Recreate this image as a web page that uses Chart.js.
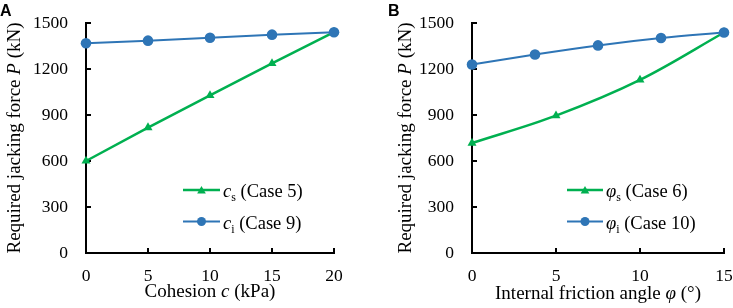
<!DOCTYPE html>
<html>
<head>
<meta charset="utf-8">
<script src="https://cdn.jsdelivr.net/npm/chart.js@4.4.1/dist/chart.umd.min.js"></script>
<style>
	html, body { margin: 0; padding: 0; background: #fff; }
	#wrap { position: relative; width: 733px; height: 308px; overflow: hidden; }
	canvas { position: absolute; top: 0; }
	#chartA { left: 0; }
	#chartB { left: 366px; }
	.tag { position: absolute; top: 3px; font: bold 16px/16px "Liberation Sans", Arial, sans-serif; color: #000; }
</style>
</head>
<body>
<div id="wrap">
	<canvas id="chartA" width="366" height="308"></canvas>
	<canvas id="chartB" width="367" height="308"></canvas>
	<div class="tag" style="left:0">A</div>
	<div class="tag" style="left:388px">B</div>
</div>
<script>
( function () {
	'use strict';

	// Panel A: cohesion
	const cohesion = [ 0, 5, 10, 15, 20 ];
	const forceCs = [ 600, 818, 1028, 1237, 1440 ];
	const forceCi = [ 1368, 1385, 1404, 1424, 1440 ];

	// Panel B: internal friction angle
	const phiS = [ 0, 5, 10, 15 ];
	const forcePhiS = [ 717, 896, 1129, 1438 ];
	const phiI = [ 0, 3.75, 7.5, 11.25, 15 ];
	const forcePhiI = [ 1229, 1295, 1354, 1402, 1438 ];

	const yTicks = [ 0, 300, 600, 900, 1200, 1500 ];
	const xTicksA = [ 0, 5, 10, 15, 20 ];
	const xTicksB = [ 0, 5, 10, 15 ];

	const GREEN = '#00B050';
	const BLUE = '#2E75B6';
	const SERIF = '"Liberation Serif", "Times New Roman", serif';

	const fontOf = ( s, size ) => `${ s.italic ? 'italic ' : 'normal ' }${ s.sub ? 12 : size }px ${ SERIF }`;

	function drawRich( ctx, segs, x, y, size, align ) {
		let total = 0;
		segs.forEach( ( s ) => { ctx.font = fontOf( s, size ); s.w = ctx.measureText( s.t ).width; total += s.w; } );
		let cx = align === 'center' ? x - total / 2 : x;
		ctx.textAlign = 'left';
		ctx.textBaseline = 'alphabetic';
		segs.forEach( ( s ) => {
			ctx.font = fontOf( s, size );
			ctx.fillText( s.t, cx, y + ( s.sub ? 4 : 0 ) );
			cx += s.w;
		} );
	}

	function marker( ctx, style, x, y, r, color ) {
		ctx.fillStyle = color;
		ctx.beginPath();
		if ( style === 'circle' ) {
			ctx.arc( x, y, r, 0, Math.PI * 2 );
		} else {
			for ( let i = 0; i < 3; i++ ) {
				const a = -Math.PI / 2 + i * Math.PI * 2 / 3;
				ctx[ i ? 'lineTo' : 'moveTo' ]( x + r * Math.cos( a ), y + r * Math.sin( a ) );
			}
			ctx.closePath();
		}
		ctx.fill();
	}

	// Inside tick marks, rich-text titles and the in-plot legend.
	const decor = {
		id: 'decor',
		beforeDatasetsDraw( chart ) {
			const { ctx, chartArea: a, scales: { x, y } } = chart;
			ctx.save();
			ctx.strokeStyle = '#000';
			ctx.lineWidth = 2;
			ctx.beginPath();
			x.ticks.forEach( ( t ) => { const p = x.getPixelForValue( t.value ); ctx.moveTo( p, a.bottom ); ctx.lineTo( p, a.bottom - 5 ); } );
			y.ticks.forEach( ( t ) => { const p = y.getPixelForValue( t.value ); ctx.moveTo( a.left, p ); ctx.lineTo( a.left + 5, p ); } );
			ctx.stroke();
			ctx.restore();
		},
		afterDraw( chart, args, o ) {
			const { ctx, chartArea: a } = chart;
			ctx.save();
			ctx.fillStyle = '#000';
			drawRich( ctx, o.xTitle, ( a.left + a.right ) / 2, o.xTitleY, 19, 'center' );
			ctx.save();
			ctx.translate( o.yTitleX, ( a.top + a.bottom ) / 2 );
			ctx.rotate( -Math.PI / 2 );
			drawRich( ctx, o.yTitle, 0, 0, 19, 'center' );
			ctx.restore();

			o.items.forEach( ( it, i ) => {
				const y = o.legendY[ i ];
				ctx.strokeStyle = it.color;
				ctx.lineWidth = it.width;
				ctx.beginPath();
				ctx.moveTo( o.legendX0, y );
				ctx.lineTo( o.legendX1, y );
				ctx.stroke();
				marker( ctx, it.style, ( o.legendX0 + o.legendX1 ) / 2, y + ( it.style === 'triangle' ? 1 : 0 ), it.style === 'circle' ? 4.5 : 5, it.color );
				ctx.fillStyle = '#000';
				drawRich( ctx, it.text, o.legendX1 + 3, y + 7, 18.5, 'left' );
			} );
			ctx.restore();
		},
	};

	const pts = ( xs, ys ) => xs.map( ( v, i ) => ( { x: v, y: ys[ i ] } ) );

	function makeChart( id, g ) {
		const tickFont = { family: SERIF, size: 17.5, style: 'normal', weight: 'normal' };
		return new Chart( document.getElementById( id ), {
			type: 'line',
			data: {
				datasets: [
					{ data: pts( g.blueX, g.blueY ), borderColor: BLUE, backgroundColor: BLUE, borderWidth: 2, pointStyle: 'circle', pointRadius: 5.3, pointBorderWidth: 0, tension: g.tension, order: 0, clip: false },
					{ data: pts( g.greenX, g.greenY ), borderColor: GREEN, backgroundColor: GREEN, borderWidth: 2.5, pointStyle: 'triangle', pointRadius: 5.2, pointBorderWidth: 0, tension: g.tension, order: 1, clip: false },
				],
			},
			options: {
				responsive: false,
				animation: false,
				devicePixelRatio: 1,
				layout: { padding: { left: 0, top: 23, right: g.padRight, bottom: 0 } },
				plugins: {
					legend: { display: false },
					tooltip: { enabled: false },
					decor: g.decor,
				},
				scales: {
					x: {
						type: 'linear', min: g.xTicks[ 0 ], max: g.xTicks[ g.xTicks.length - 1 ],
						afterBuildTicks: ( s ) => { s.ticks = g.xTicks.map( ( v ) => ( { value: v } ) ); },
						afterFit: ( s ) => { s.height = 55; s.paddingLeft = 0; s.paddingRight = 0; },
						grid: { drawOnChartArea: false, drawTicks: false },
						border: { color: '#000', width: 2 },
						ticks: { color: '#000', font: tickFont, padding: 13, maxRotation: 0, autoSkip: false, callback: ( v ) => String( v ) },
					},
					y: {
						min: yTicks[ 0 ], max: yTicks[ yTicks.length - 1 ],
						afterBuildTicks: ( s ) => { s.ticks = yTicks.map( ( v ) => ( { value: v } ) ); },
						afterFit: ( s ) => { s.width = g.axisLeft; s.paddingTop = 0; s.paddingBottom = 0; },
						grid: { drawOnChartArea: false, drawTicks: false },
						border: { color: '#000', width: 2 },
						ticks: { color: '#000', font: tickFont, padding: 18, autoSkip: false, callback: ( v ) => String( v ) },
					},
				},
			},
			plugins: [ decor ],
		} );
	}

	const yTitle = [ { t: 'Required jacking force ' }, { t: 'P', italic: true }, { t: ' (kN)' } ];

	makeChart( 'chartA', {
		blueX: cohesion, blueY: forceCi, greenX: cohesion, greenY: forceCs,
		xTicks: xTicksA, tension: 0, padRight: 32, axisLeft: 86,
		decor: {
			xTitle: [ { t: 'Cohesion ' }, { t: 'c', italic: true }, { t: ' (kPa)' } ],
			xTitleY: 297, yTitle, yTitleX: 20,
			legendX0: 183, legendX1: 220, legendY: [ 190, 221.5 ],
			items: [
				{ color: GREEN, width: 2.5, style: 'triangle', text: [ { t: 'c', italic: true }, { t: 's', sub: true }, { t: ' (Case 5)' } ] },
				{ color: BLUE, width: 2, style: 'circle', text: [ { t: 'c', italic: true }, { t: 'i', sub: true }, { t: ' (Case 9)' } ] },
			],
		},
	} );

	makeChart( 'chartB', {
		blueX: phiI, blueY: forcePhiI, greenX: phiS, greenY: forcePhiS,
		xTicks: xTicksB, tension: 0.35, padRight: 9, axisLeft: 106,
		decor: {
			xTitle: [ { t: 'Internal friction angle ' }, { t: 'φ', italic: true }, { t: ' (°)' } ],
			xTitleY: 299, yTitle, yTitleX: 45,
			legendX0: 201, legendX1: 237, legendY: [ 190, 221.5 ],
			items: [
				{ color: GREEN, width: 2.5, style: 'triangle', text: [ { t: 'φ', italic: true }, { t: 's', sub: true }, { t: ' (Case 6)' } ] },
				{ color: BLUE, width: 2, style: 'circle', text: [ { t: 'φ', italic: true }, { t: 'i', sub: true }, { t: ' (Case 10)' } ] },
			],
		},
	} );
} )();
</script>
</body>
</html>
